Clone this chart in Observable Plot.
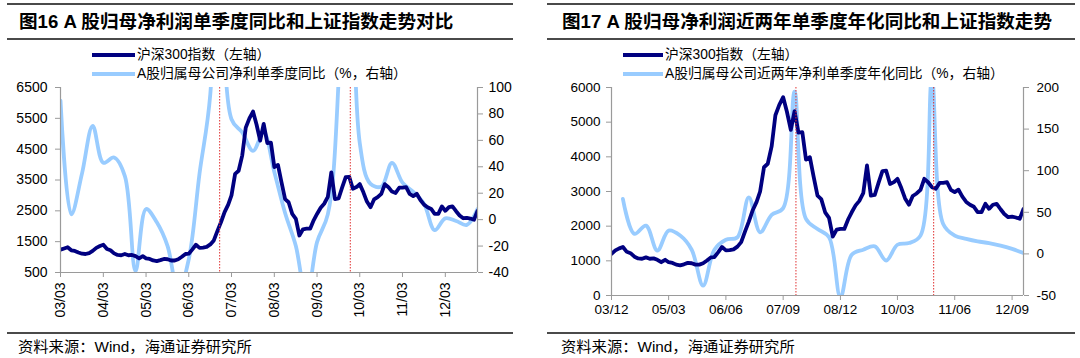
<!DOCTYPE html>
<html><head><meta charset="utf-8">
<script src="https://cdn.jsdelivr.net/npm/d3@7"></script>
<script src="https://cdn.jsdelivr.net/npm/@observablehq/plot@0.6"></script>
<style>
body{margin:0;background:#fff;}
#root{position:relative;width:1080px;height:358px;overflow:hidden;background:#fff;font-family:"Liberation Sans",Arial,"Noto Sans CJK SC",sans-serif;color:#000;}
.abs{position:absolute;white-space:nowrap;z-index:2;}
.rule{position:absolute;height:2px;background:#4a4a4a;z-index:2;}
.title{font-size:18.6px;font-weight:bold;height:24px;line-height:24px;}
.leg{font-size:13.8px;height:18px;line-height:18px;}
.sw{position:absolute;height:4px;z-index:2;}
.cap{font-size:15.3px;height:20px;line-height:20px;}
.chart{position:absolute;top:0;z-index:1;}
</style></head>
<body><div id="root"></div>
<script>
// ---- data ----
const hsStart = "2003-03"; // monthly HS300 index, from 2003-03
const hsValues = [
  1240,1280,1320,1220,1200,1150,1110,1100,1130,1200,
  1300,1360,1400,1260,1220,1120,1070,1060,1100,1060,1070,1030,
  960,1030,960,940,890,870,900,940,930,890,890,930,
  1010,1100,1110,1250,1400,1300,1310,1330,1410,1540,1850,2130,
  2460,2700,3000,3700,3800,4300,5200,5500,5720,5300,4780,5320,
  4700,4710,3920,3990,3430,2880,2780,2400,2240,1700,1900,1920,
  1920,2200,2400,2600,2730,2950,3750,2880,2900,3250,3590,3600,
  3215,3270,3366,3100,2800,2618,2870,2943,3050,3366,3267,3124,
  3080,3250,3250,3267,3050,2980,3053,2850,2700,2618,2560,2403,
  2404,2645,2500,2618,2645,2488,2350,2260,2274,2250,2212,2500
];
const yoyStart = "2003-03"; // quarterly single-quarter YoY (%), from 2003Q1
const yoyValues = [90,4,35,71, 43,47,33,-39, 8,-2,-20,-55, -30,35,95,350, 76,66,52,66,
  36,5,-20,-60, -17,4,105,500, 58,27,25,43, 28,21,12,-8, 1,-1,-4,8];
const ann2Start = "2004-03"; // quarterly two-year annualised YoY (%), from 2004Q1
const ann2Values = [66,24,34,4, 28,22,5,-38, 5,17,20,68, 26,47,55,195, 42,30,20,-52,
  -1,5,9,-8, 11,13,22,210, 36,22,18,15, 13,10,6,1];

const leftMarkers = ["2006-11-20","2009-12-10"];
const rightMarkers = ["2007-12-12","2010-12-15"];

const leftXTicks = ["2003-03","2004-03","2005-03","2006-03","2007-03","2008-03","2009-03","2010-03","2011-03","2012-03"];
const rightXTicks = ["2003-12","2005-03","2006-06","2007-09","2008-12","2010-03","2011-06","2012-09"];
const leftYTicks = [500,1500,2500,3500,4500,5500,6500];
const leftRTicks = [-40,-20,0,20,40,60,80,100];
const rightYTicks = [0,1000,2000,3000,4000,5000,6000];
const rightRTicks = [-50,0,50,100,150,200];

const titles = ["图16 A 股归母净利润单季度同比和上证指数走势对比","图17 A 股归母净利润近两年单季度年化同比和上证指数走势"];
const legend1 = "沪深300指数（左轴）";
const legend2 = ["A股归属母公司净利单季度同比（%，右轴）","A股归属母公司近两年净利单季度年化同比（%，右轴）"];
const caption = "资料来源：Wind，海通证券研究所";

// ---- build ----
const DARK = "#000080", LIGHT = "#99CCFF", GRAY = "#9a9a9a";
const D = s => new Date(s);
const hs = hsValues.map((v,i) => ({date: d3.utcMonth.offset(D(hsStart), i), v}));
const yoy = yoyValues.map((v,i) => ({date: d3.utcMonth.offset(D(yoyStart), 3*i), v}));
const ann2 = ann2Values.map((v,i) => ({date: d3.utcMonth.offset(D(ann2Start), 3*i), v}));
const fmt = d3.utcFormat("%y/%m");
const root = document.getElementById("root");
const FONT = '"Liberation Sans",Arial,"Noto Sans CJK SC",sans-serif';

function el(cls, css, text){const e=document.createElement("div");e.className=cls;Object.assign(e.style,css);if(text!=null)e.textContent=text;root.appendChild(e);return e;}

function makePanel(opt){
  const {ox, x0, x1, yDom, rDom, yTicks, rTicks, xTicks, rot, markers, hsData, rData, mL, mR, mB, fs, padL, padR, padX} = opt;
  const toL = r => yDom[0] + (r - rDom[0]) * (yDom[1]-yDom[0]) / (rDom[1]-rDom[0]);
  const fromL = y => Math.round(rDom[0] + (y - yDom[0]) * (rDom[1]-rDom[0]) / (yDom[1]-yDom[0]));
  const svg = Plot.plot({
    width: 540, height: 330,
    marginTop: 87, marginBottom: mB, marginLeft: mL, marginRight: mR,
    style: {background: "transparent", fontFamily: FONT, fontSize: fs, color: "#000"},
    x: {type: "utc", domain: [D(x0), D(x1)]},
    y: {domain: yDom},
    marks: [
      Plot.lineY(rData, {x: "date", y: d => toL(d.v), stroke: LIGHT, strokeWidth: 3.8, curve: "catmull-rom", clip: true}),
      Plot.lineY(hsData, {x: "date", y: "v", stroke: DARK, strokeWidth: 3.8, clip: true}),
      Plot.ruleX(markers.map(D), {stroke: "#e03030", strokeWidth: 1, strokeDasharray: "1.5,1.5"}),
      Plot.ruleY([yDom[0]], {stroke: GRAY, strokeWidth: 1.2}),
      Plot.ruleX([D(x0)], {stroke: GRAY, strokeWidth: 1.2}),
      Plot.ruleX([D(x1)], {stroke: GRAY, strokeWidth: 1.2}),
      Plot.axisY({ticks: yTicks, anchor: "left", tickSize: 5, tickPadding: padL, label: null, stroke: GRAY, fill: "#000", tickFormat: d => String(d)}),
      Plot.axisY({ticks: rTicks.map(toL), anchor: "right", tickSize: 5, tickPadding: padR, label: null, stroke: GRAY, fill: "#000", tickFormat: d => String(fromL(d))}),
      Plot.axisX({ticks: xTicks.map(D), tickFormat: fmt, tickRotate: rot, tickSize: 5, tickPadding: padX, label: null, stroke: GRAY, fill: "#000"})
    ]
  });
  const wrap = document.createElement("div");
  wrap.className = "chart"; wrap.style.left = ox + "px";
  wrap.appendChild(svg); root.appendChild(wrap);
}

// left panel
makePanel({ox: 0, x0: "2003-03-01", x1: "2012-12-01", yDom: [500, 6500], rDom: [-40, 100],
  yTicks: leftYTicks, rTicks: leftRTicks, xTicks: leftXTicks, rot: -90, markers: leftMarkers,
  hsData: hs, rData: yoy, mL: 60, mR: 63, mB: 58, fs: "14px", padL: 8, padR: 6, padX: 5});
// right panel
makePanel({ox: 540, x0: "2003-12-01", x1: "2012-12-01", yDom: [0, 6000], rDom: [-50, 200],
  yTicks: rightYTicks, rTicks: rightRTicks, xTicks: rightXTicks, rot: 0, markers: rightMarkers,
  hsData: hs.filter(d => d.date >= D("2003-12-01")), rData: ann2, mL: 71, mR: 57, mB: 35, fs: "13.5px", padL: 6, padR: 8, padX: 4});

// text, rules, legends
[[7,506,19,92,43,137,0],[547,528,562,623,40,665,1]].forEach(([rx,rw,tx,sx,sw,lx,k]) => {
  el("rule", {left: rx+"px", width: rw+"px", top: "3px"});
  el("rule", {left: rx+"px", width: rw+"px", top: "38px"});
  el("rule", {left: rx+"px", width: rw+"px", top: "332px"});
  el("abs title", {left: tx+"px", top: "10px"}, titles[k]);
  el("sw", {left: sx+"px", width: sw+"px", top: "53px", background: DARK});
  el("abs leg", {left: lx+"px", top: "46px"}, legend1);
  el("sw", {left: sx+"px", width: sw+"px", top: "72px", background: LIGHT});
  el("abs leg", {left: lx+"px", top: "65px"}, legend2[k]);
  el("abs cap", {left: (tx-1)+"px", top: "337px"}, caption);
});
</script></body></html>
